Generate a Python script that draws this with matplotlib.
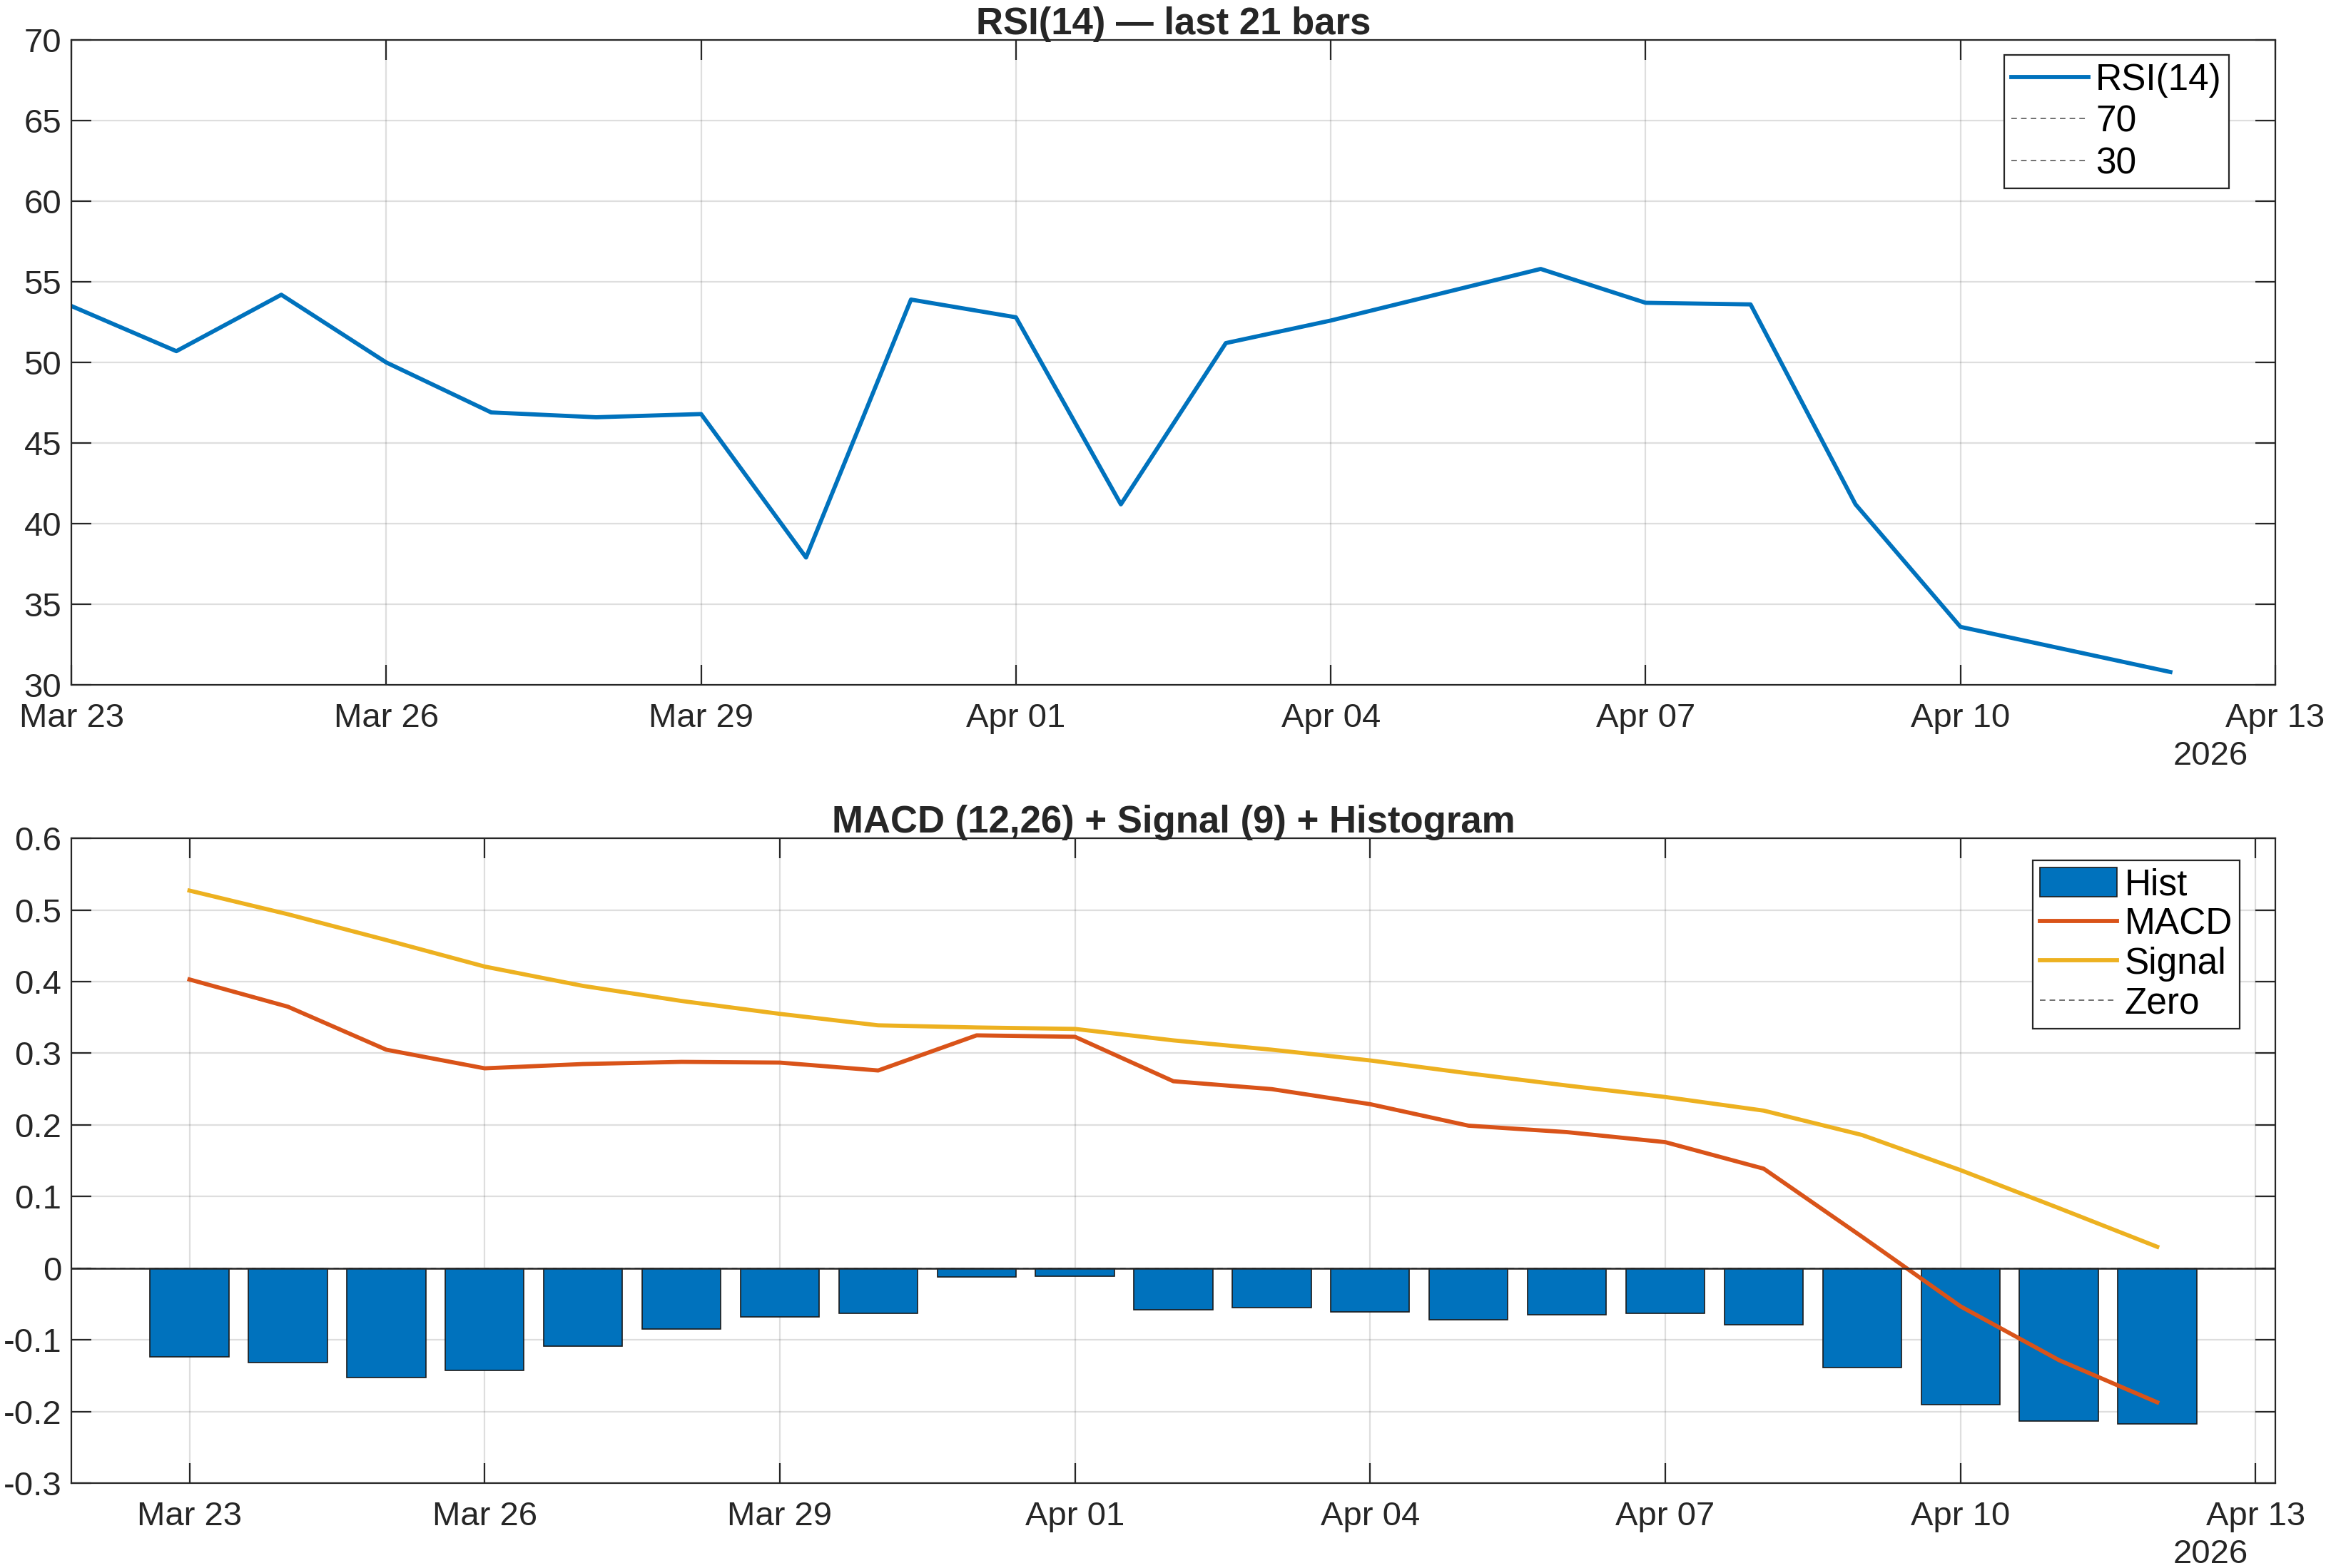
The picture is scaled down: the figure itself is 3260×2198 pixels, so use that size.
import matplotlib
matplotlib.use('Agg')
import matplotlib.pyplot as plt
import matplotlib.dates as mdates
import numpy as np
import pandas as pd

plt.rcParams['font.family'] = ['Liberation Sans', 'DejaVu Sans']
plt.rcParams['axes.unicode_minus'] = False

dates = pd.date_range('2026-03-23', '2026-04-12', freq='D')

rsi = [53.5, 50.7, 54.2, 50.0, 46.9, 46.6, 46.8, 37.9, 53.9, 52.8, 41.2,
       51.2, 52.6, 54.2, 55.8, 53.7, 53.6, 41.2, 33.6, 32.2, 30.8]

macd = [0.403, 0.365, 0.305, 0.279, 0.285, 0.288, 0.287, 0.276, 0.325, 0.323, 0.261,
        0.250, 0.229, 0.199, 0.190, 0.176, 0.139, 0.044, -0.053, -0.128, -0.187]
signal = [0.527, 0.494, 0.458, 0.421, 0.394, 0.373, 0.355, 0.339, 0.336, 0.334, 0.318,
          0.305, 0.290, 0.272, 0.255, 0.239, 0.220, 0.186, 0.137, 0.084, 0.030]
hist = [-0.124, -0.131, -0.152, -0.142, -0.109, -0.085, -0.068, -0.063, -0.012, -0.011, -0.058,
        -0.055, -0.061, -0.072, -0.065, -0.063, -0.079, -0.138, -0.190, -0.213, -0.217]

blue = '#0072BD'
orange = '#D95319'
yellow = '#EDB120'
axc = '#262626'

fs = 17
fs_leg = 18.5
fs_title = 19
lw = 2.1
xticks = pd.date_range('2026-03-23', '2026-04-13', freq='3D')


def style_axes(ax):
    for s in ax.spines.values():
        s.set_color(axc)
        s.set_linewidth(0.8)
    ax.tick_params(direction='in', length=10, width=0.8, colors=axc, labelsize=fs,
                   top=True, right=True, labelcolor=axc)
    ax.tick_params(axis='x', pad=9)
    ax.tick_params(axis='y', pad=5)
    ax.grid(True, color=axc, alpha=0.15, linewidth=0.8)
    ax.set_axisbelow(True)
    ax.set_xticks(xticks)
    ax.xaxis.set_major_formatter(mdates.DateFormatter('%b %d'))
    ax.annotate('2026', xy=(0.9706, 0), xycoords='axes fraction', xytext=(0, -36),
                textcoords='offset points', ha='center', va='center', fontsize=fs, color=axc)


def style_legend(leg):
    leg.get_frame().set_edgecolor(axc)
    leg.get_frame().set_linewidth(0.8)


fig = plt.figure(figsize=(16.3, 10.99), dpi=200)
ax1 = fig.add_axes([0.0307, 0.5632, 0.9475, 0.4113])
ax2 = fig.add_axes([0.0307, 0.054, 0.9475, 0.4114])

dash = (0, (4, 3))

# RSI
ax1.plot(dates, rsi, color=blue, linewidth=lw, label='RSI(14)')
ax1.axhline(70, color='#707070', linestyle=dash, linewidth=0.7, label='70')
ax1.axhline(30, color='#707070', linestyle=dash, linewidth=0.7, label='30')
ax1.set_ylim(30, 70)
ax1.set_yticks(np.arange(30, 71, 5))
ax1.set_xlim(pd.Timestamp('2026-03-23'), pd.Timestamp('2026-04-13'))
ax1.set_title('RSI(14) — last 21 bars', fontsize=fs_title, fontweight='bold', color=axc, pad=3)
style_axes(ax1)
leg1 = ax1.legend(loc='upper right', bbox_to_anchor=(0.979, 0.9765), fontsize=fs_leg,
                  handlelength=2.1, handletextpad=0.2, labelspacing=0.19,
                  borderpad=0.2, borderaxespad=0, fancybox=False, framealpha=1)
style_legend(leg1)

# MACD
bars = ax2.bar(dates, hist, width=0.8, color=blue, edgecolor='#1a1a1a', linewidth=0.6, label='Hist')
ax2.axhline(0, color=axc, linewidth=0.9, zorder=2.5)
l_macd, = ax2.plot(dates, macd, color=orange, linewidth=lw, label='MACD')
l_sig, = ax2.plot(dates, signal, color=yellow, linewidth=lw, label='Signal')
l_zero = ax2.axhline(0, color='#707070', linestyle=dash, linewidth=0.7, label='Zero')
ax2.set_ylim(-0.3, 0.6)
ax2.set_yticks(np.round(np.arange(-0.3, 0.61, 0.1), 1))
ax2.yaxis.set_major_formatter(plt.FuncFormatter(lambda v, p: '0' if abs(v) < 1e-9 else f'{v:g}'))
ax2.set_xlim(pd.Timestamp('2026-03-23') - pd.Timedelta(hours=28.8),
             pd.Timestamp('2026-04-12') + pd.Timedelta(hours=28.8))
ax2.set_title('MACD (12,26) + Signal (9) + Histogram', fontsize=fs_title, fontweight='bold',
              color=axc, pad=3)
style_axes(ax2)
leg2 = ax2.legend([bars, l_macd, l_sig, l_zero], ['Hist', 'MACD', 'Signal', 'Zero'],
                  loc='upper right', bbox_to_anchor=(0.9839, 0.966), fontsize=fs_leg,
                  handlelength=2.1, handleheight=0.85, handletextpad=0.2, labelspacing=0.12,
                  borderpad=0.2, borderaxespad=0, fancybox=False, framealpha=1)
style_legend(leg2)

fig.savefig('out.png', dpi=200)
